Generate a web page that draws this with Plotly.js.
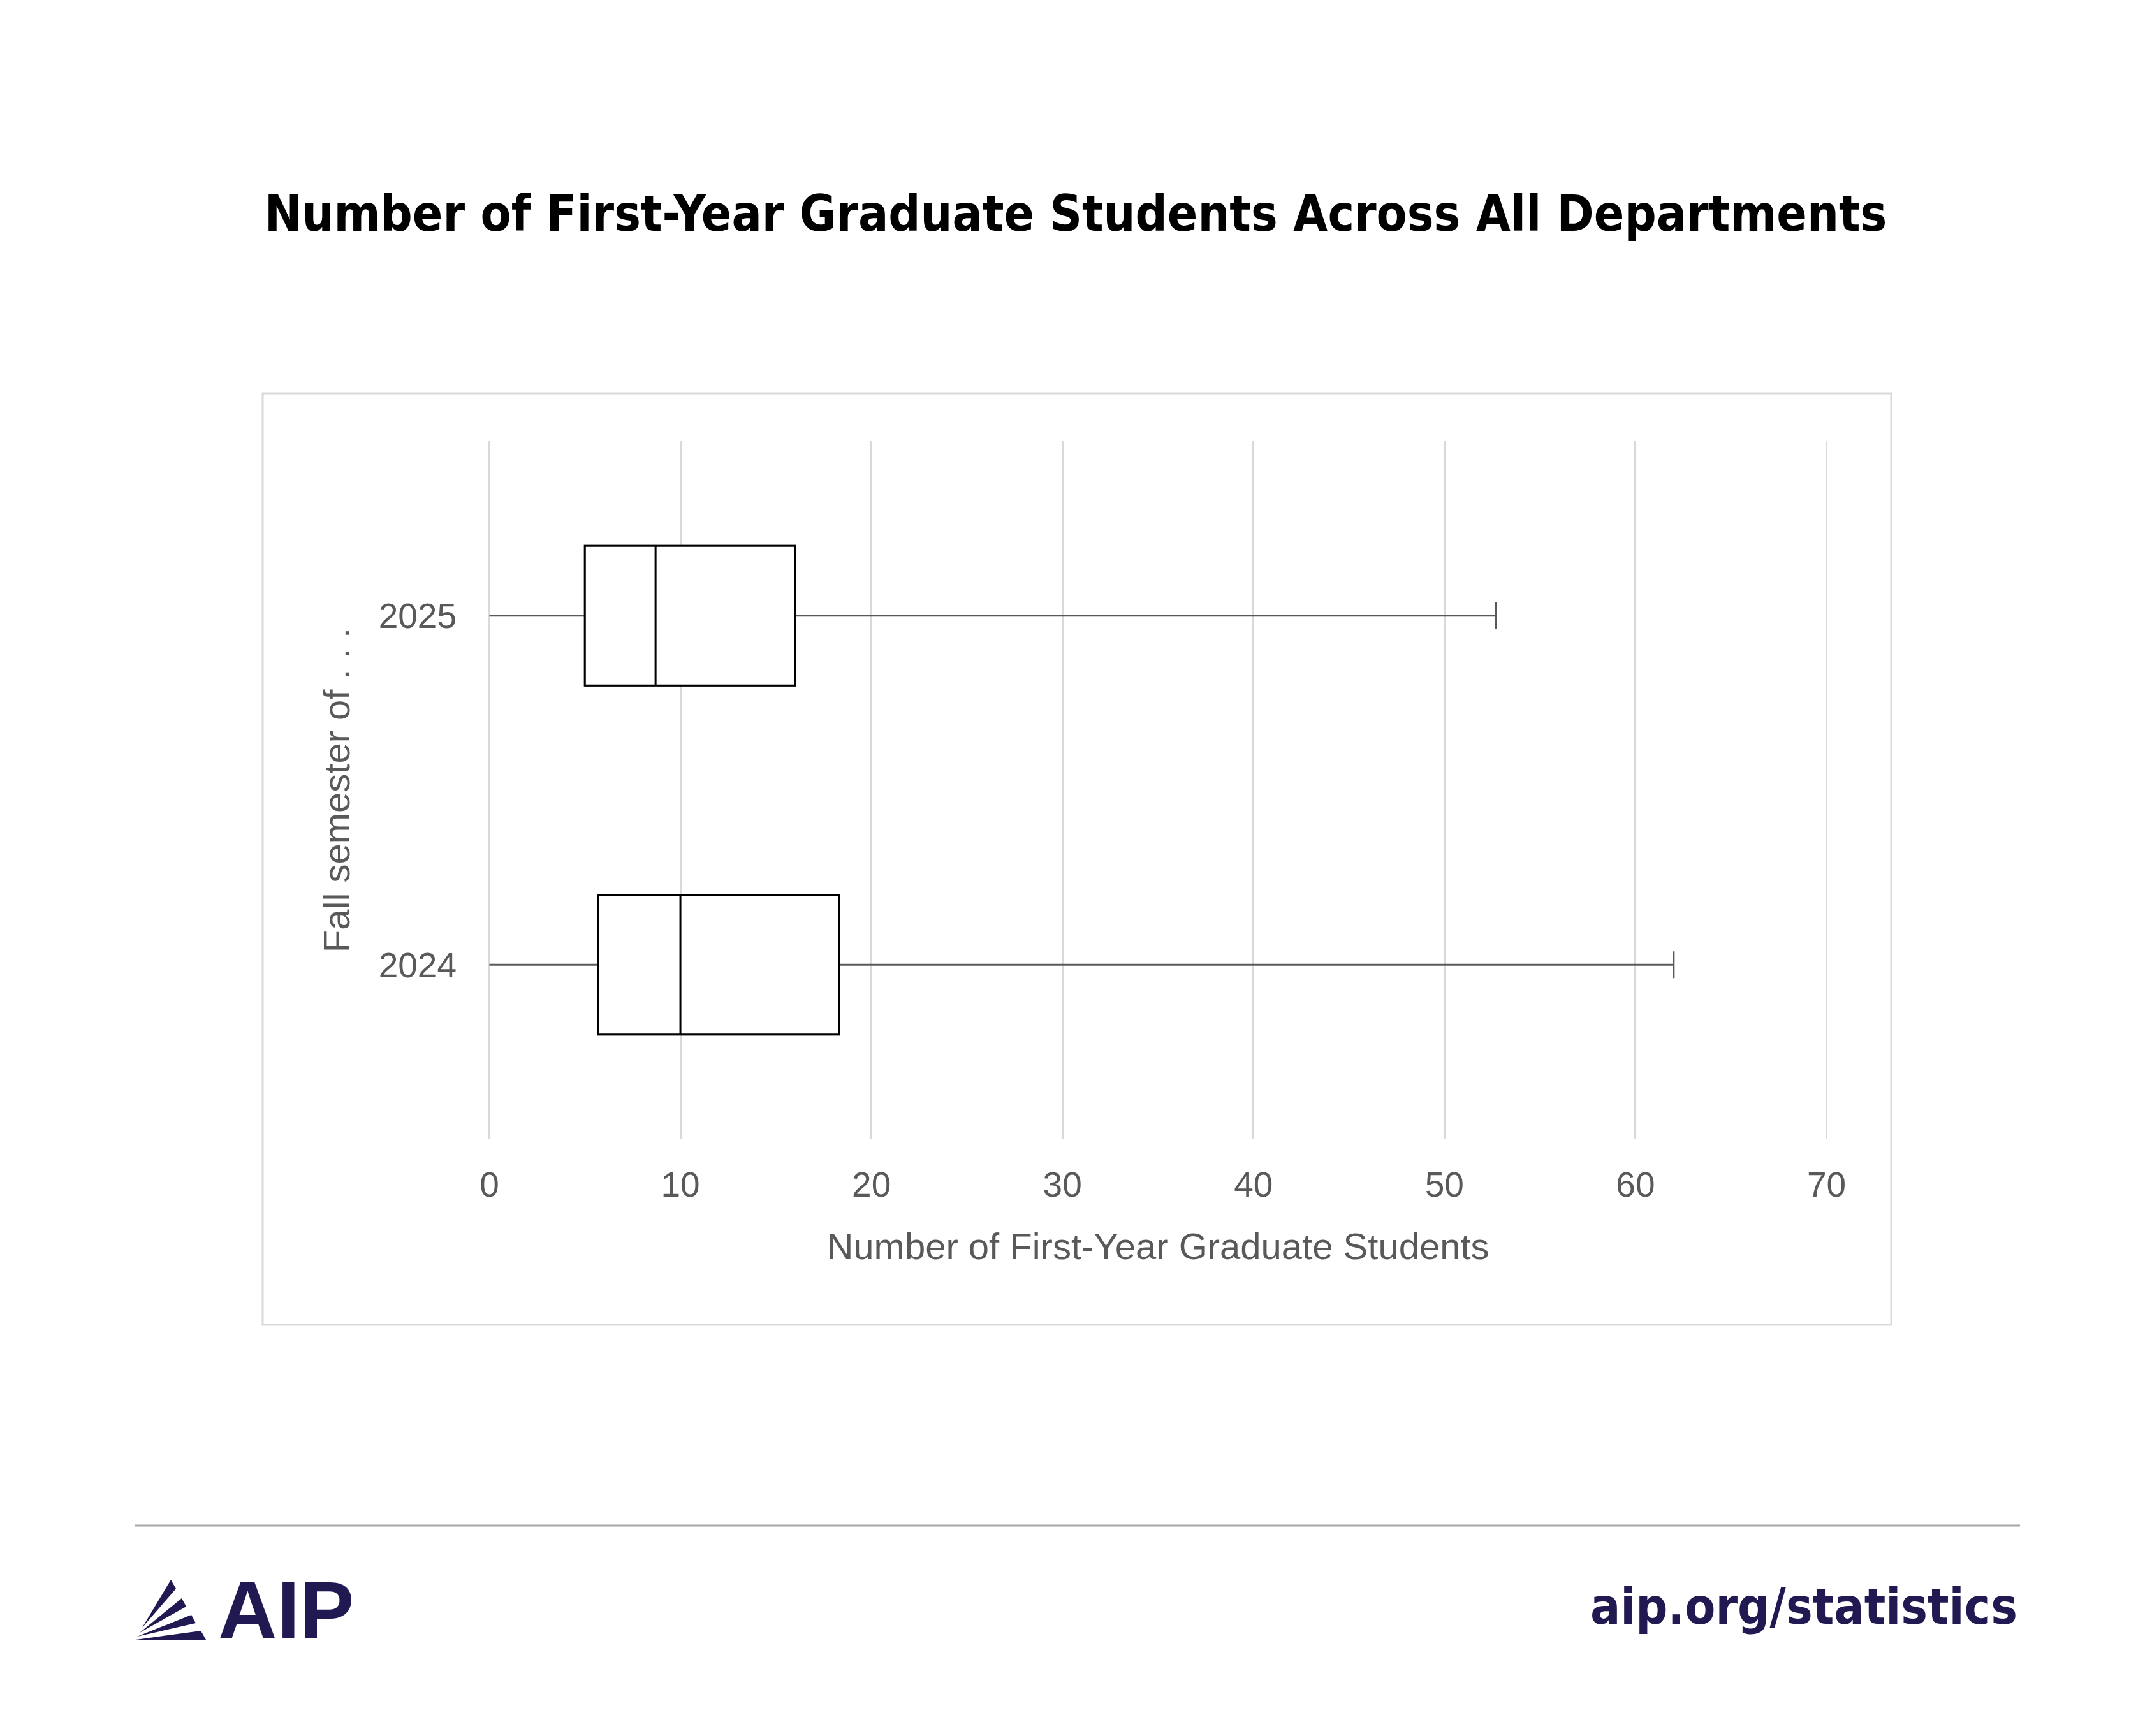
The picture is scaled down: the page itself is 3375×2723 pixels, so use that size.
<!DOCTYPE html>
<html>
<head>
<meta charset="utf-8">
<script src="https://cdn.plot.ly/plotly-3.0.1.min.js"></script>
<style>
  html, body { margin: 0; padding: 0; background: #ffffff; }
  #chart { width: 3375px; height: 2723px; }
</style>
</head>
<body>
<div id="chart"></div>
<script>
// Box plot summary values
const years = ['2024', '2025'];
const minValues = [0, 0];
const q1Values = [5.7, 5.0];
const medianValues = [10.0, 8.7];
const q3Values = [18.3, 16.0];
const maxValues = [62.0, 52.7];

const xTicks = [0, 10, 20, 30, 40, 50, 60, 70];

// page geometry (pixels)
const W = 3375, H = 2723;
const M = { l: 766, r: 509, t: 692, b: 936 };
const plotW = W - M.l - M.r;
const plotH = H - M.t - M.b;
const px = x => (x - M.l) / plotW;
const py = y => (H - M.b - y) / plotH;

const NAVY = '#211a52';
const GREY = '#595959';
const NARROW = '"Liberation Sans Narrow", "Arial Narrow", "DejaVu Sans Condensed", sans-serif';
const SANS = '"Liberation Sans", Arial, sans-serif';

// whiskers + outline in grey
const whiskerTrace = {
    type: 'box',
    orientation: 'h',
    y: years,
    q1: q1Values,
    median: medianValues,
    q3: q3Values,
    lowerfence: minValues,
    upperfence: maxValues,
    width: 0.4,
    whiskerwidth: 0,
    fillcolor: '#ffffff',
    line: { color: GREY, width: 3 },
    hoverinfo: 'skip',
    showlegend: false
};

// box on top in black, fences collapsed onto the box
const boxTrace = {
    type: 'box',
    orientation: 'h',
    y: years,
    q1: q1Values,
    median: medianValues,
    q3: q3Values,
    lowerfence: q1Values,
    upperfence: q3Values,
    width: 0.4,
    whiskerwidth: 0,
    fillcolor: '#ffffff',
    line: { color: '#000000', width: 3 },
    hoverinfo: 'skip',
    showlegend: false
};

// end caps on the upper whiskers
const capTrace = {
    type: 'scatter',
    mode: 'markers',
    x: maxValues,
    y: years,
    marker: { symbol: 'line-ns', size: 30, line: { color: GREY, width: 3 } },
    hoverinfo: 'skip',
    showlegend: false
};

// logo stripes, pixel coords
const stripes = [
    [[223, 2553], [268, 2478], [276, 2492]],
    [[219, 2561], [285, 2507], [292, 2520]],
    [[215, 2567], [300, 2533], [307, 2546]],
    [[213, 2572], [315, 2558], [323, 2572]]
];

const shapes = [
    // frame round the chart
    {
        type: 'rect', xref: 'paper', yref: 'paper',
        x0: px(412), x1: px(2966), y0: py(2078), y1: py(617),
        line: { color: '#d9d9d9', width: 3 }, fillcolor: 'rgba(0,0,0,0)', layer: 'below'
    },
    // footer rule
    {
        type: 'line', xref: 'paper', yref: 'paper',
        x0: px(211), x1: px(3168), y0: py(2393), y1: py(2393),
        line: { color: '#a6a6a6', width: 3 }
    }
];
stripes.forEach(s => {
    shapes.push({
        type: 'path', xref: 'paper', yref: 'paper',
        path: 'M' + s.map(p => px(p[0]) + ',' + py(p[1])).join(' L') + ' Z',
        fillcolor: NAVY, line: { width: 0 }
    });
});

const layout = {
    width: W,
    height: H,
    margin: M,
    paper_bgcolor: '#ffffff',
    plot_bgcolor: '#ffffff',
    boxmode: 'overlay',
    title: {
        text: '<b>Number of First-Year Graduate Students Across All Departments</b>',
        font: { family: NARROW, size: 78, color: '#000000' },
        xref: 'container', x: 1687 / W, xanchor: 'center',
        yref: 'container', y: 1 - 335 / H, yanchor: 'middle'
    },
    xaxis: {
        range: [-0.05, 70.05],
        tickvals: xTicks,
        showgrid: true,
        gridcolor: '#d9d9d9',
        gridwidth: 3,
        zeroline: false,
        showline: false,
        ticks: '',
        ticklabelstandoff: 34,
        tickfont: { family: SANS, size: 55, color: GREY },
        title: {
            text: 'Number of First-Year Graduate Students',
            font: { family: SANS, size: 58, color: GREY },
            standoff: 46
        },
        fixedrange: true
    },
    yaxis: {
        type: 'category',
        categoryorder: 'array',
        categoryarray: years,
        range: [-0.5, 1.5],
        showgrid: false,
        zeroline: false,
        showline: false,
        ticks: '',
        ticklabelstandoff: 49,
        tickfont: { family: SANS, size: 55, color: GREY },
        title: {
            text: 'Fall semester of . . .',
            font: { family: SANS, size: 58, color: GREY },
            standoff: 26
        },
        fixedrange: true
    },
    shapes: shapes,
    annotations: [
        {
            text: '<b>AIP</b>',
            xref: 'paper', yref: 'paper',
            x: px(340), y: py(2525),
            xanchor: 'left', yanchor: 'middle',
            showarrow: false,
            font: { family: SANS, size: 128, color: NAVY }
        },
        {
            text: '<b>aip.org/statistics</b>',
            xref: 'paper', yref: 'paper',
            x: px(3166), y: py(2520),
            xanchor: 'right', yanchor: 'middle',
            showarrow: false,
            font: { family: NARROW, size: 78, color: NAVY }
        }
    ]
};

Plotly.newPlot('chart', [whiskerTrace, boxTrace, capTrace], layout, { staticPlot: true, displayModeBar: false });
</script>
</body>
</html>
